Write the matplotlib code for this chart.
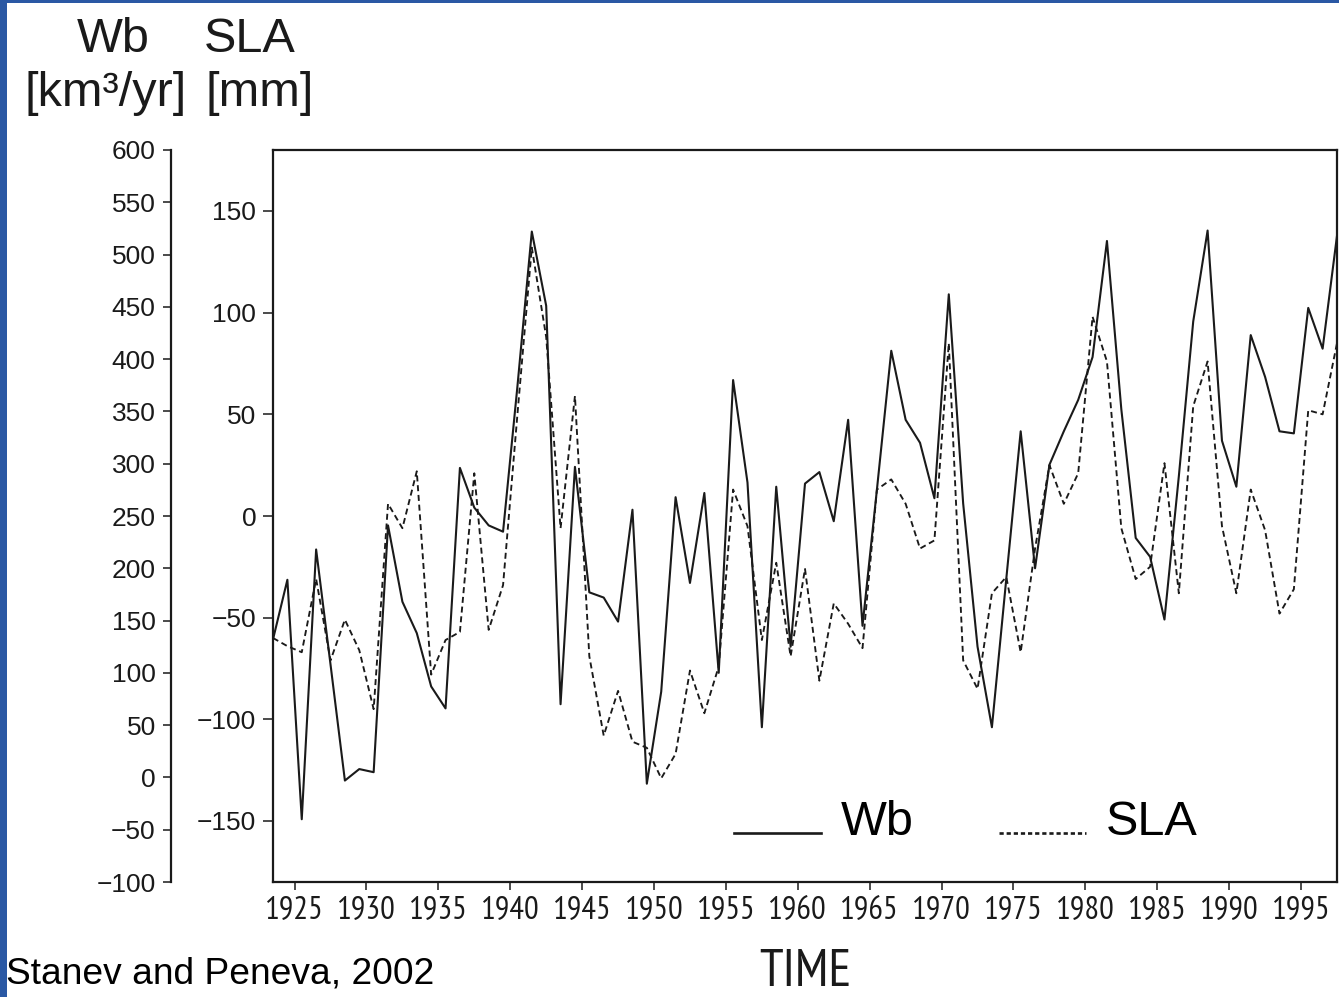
import matplotlib
matplotlib.use("Agg")
import numpy as np
import matplotlib.pyplot as plt
from matplotlib.lines import Line2D
from matplotlib.patches import Rectangle
from matplotlib.legend_handler import HandlerLine2D

# --- data ---
years = list(range(1923, 1998))

wb = [132, 189, -40, 218, 108, -3, 8, 5, 241, 168,
      138, 87, 66, 296, 258, 241, 235, 374, 522, 451,
      70, 297, 177, 172, 149, 256, -6, 82, 268, 186,
      272, 100, 380, 282, 48, 278, 125, 281, 292, 245,
      342, 145, 275, 408, 342, 320, 267, 462, 262, 125,
      48, 190, 331, 200, 299, 331, 361, 402, 513, 352,
      229, 211, 151, 288, 436, 523, 322, 278, 423, 383,
      331, 329, 449, 410, 518]

sla = [-60, -64, -67, -31, -71, -51, -66, -95, 6, -6,
       22, -78, -61, -57, 21, -56, -34, 50, 132, 88,
       -6, 59, -69, -108, -86, -111, -114, -129, -117, -76,
       -97, -74, 13, -5, -61, -23, -69, -26, -81, -43,
       -53, -65, 13, 18, 6, -16, -12, 85, -71, -85,
       -38, -30, -67, -16, 25, 6, 21, 98, 76, -6,
       -31, -25, 26, -38, 54, 76, -5, -38, 13, -7,
       -48, -36, 52, 50, 85]

xticks = list(range(1925, 2000, 5))
sla_ticks = [-150, -100, -50, 0, 50, 100, 150]
wb_ticks = list(range(-100, 650, 50))

W, H = 1339, 997
ink = "#1a1a1a"
narrow = ["Liberation Sans Narrow", "Arial Narrow", "PT Sans Narrow",
          "Roboto Condensed", "Archivo Narrow", "Liberation Sans", "DejaVu Sans"]
plain = ["Liberation Sans", "DejaVu Sans"]
dash = (0, (3.2, 2.0))


class BaselineLine(HandlerLine2D):
    # legend sample sits on the text baseline, as in the original plot
    def create_artists(self, legend, orig_handle, xdescent, ydescent,
                       width, height, fontsize, trans):
        arts = super().create_artists(legend, orig_handle, xdescent, ydescent,
                                      width, height, fontsize, trans)
        for a in arts:
            a.set_ydata(np.full_like(a.get_xdata(), 0.03 * fontsize))
        return arts


fig = plt.figure(figsize=(W / 100, H / 100), dpi=100)
fig.patch.set_facecolor("#2a58a4")
fig.patches.append(Rectangle((7 / W, 0), 1, 1 - 3 / H, transform=fig.transFigure,
                             facecolor="white", edgecolor="none", zorder=-10))

ax = fig.add_axes([273 / W, 1 - 882 / H, 1064 / W, 732 / H])
ax.set_facecolor("white")
ax2 = ax.twinx()

x = np.array(years) + 0.5
ax2.plot(x, wb, color=ink, lw=1.5)
ax.plot(x, sla, color=ink, lw=1.35, linestyle=dash)

ax.set_xlim(1923.5, 1997.5)
ax.set_ylim(-180, 180)
ax2.set_ylim(-100, 600)

for s in ax.spines.values():
    s.set_linewidth(1.6)
    s.set_color(ink)

ax.set_xticks(xticks)
ax.set_xticklabels([str(v) for v in xticks], family=narrow, fontsize=23.5)
ax.tick_params(axis="x", direction="out", length=6, width=1.1, pad=4, colors=ink)

ax.set_yticks(sla_ticks)
ax.set_yticklabels(["\u2212" + str(-v) if v < 0 else str(v) for v in sla_ticks],
                   family=plain, fontsize=19)
ax.tick_params(axis="y", direction="out", length=7, width=1.1, pad=5, colors=ink)

# outer Wb axis on the far left
ax2.spines["right"].set_visible(False)
ax2.spines["top"].set_visible(False)
ax2.spines["bottom"].set_visible(False)
ax2.spines["left"].set_visible(True)
ax2.spines["left"].set_position(("outward", 102 * 0.72))
ax2.spines["left"].set_linewidth(1.6)
ax2.spines["left"].set_color(ink)
ax2.yaxis.set_ticks_position("left")
ax2.set_yticks(wb_ticks)
ax2.set_yticklabels(["\u2212" + str(-v) if v < 0 else str(v) for v in wb_ticks],
                    family=plain, fontsize=19)
ax2.tick_params(axis="y", direction="out", length=6, width=1.1, pad=5, colors=ink,
                left=True, labelleft=True, right=False, labelright=False)

handles = [Line2D([], [], color=ink, lw=1.9),
           Line2D([], [], color=ink, lw=1.9, linestyle=(0, (1.6, 1.1)))]
leg = ax.legend(handles, ["Wb", "SLA"], ncol=2, frameon=False,
                loc="lower left", bbox_to_anchor=(0.392, -0.009),
                prop={"family": plain, "size": 35},
                handlelength=1.8, handletextpad=0.4, columnspacing=1.75,
                handler_map={Line2D: BaselineLine()})

# header text
fig.text(113 / W, 1 - 52 / H, "Wb", ha="center", va="baseline",
         family=plain, fontsize=35, color=ink)
fig.text(250 / W, 1 - 52 / H, "SLA", ha="center", va="baseline",
         family=plain, fontsize=35, color=ink)
fig.text(106 / W, 1 - 106 / H, "[km\u00b3/yr]", ha="center", va="baseline",
         family=plain, fontsize=35, color=ink)
fig.text(260 / W, 1 - 106 / H, "[mm]", ha="center", va="baseline",
         family=plain, fontsize=35, color=ink)

fig.text(805 / W, 1 - 986 / H, "TIME", ha="center", va="baseline",
         family=narrow, fontsize=38, color=ink)
fig.text(6 / W, 1 - 983 / H, "Stanev and Peneva, 2002", ha="left", va="baseline",
         family=plain, fontsize=26.7, color="black")

fig.savefig("out.png", dpi=100, facecolor=fig.get_facecolor())
